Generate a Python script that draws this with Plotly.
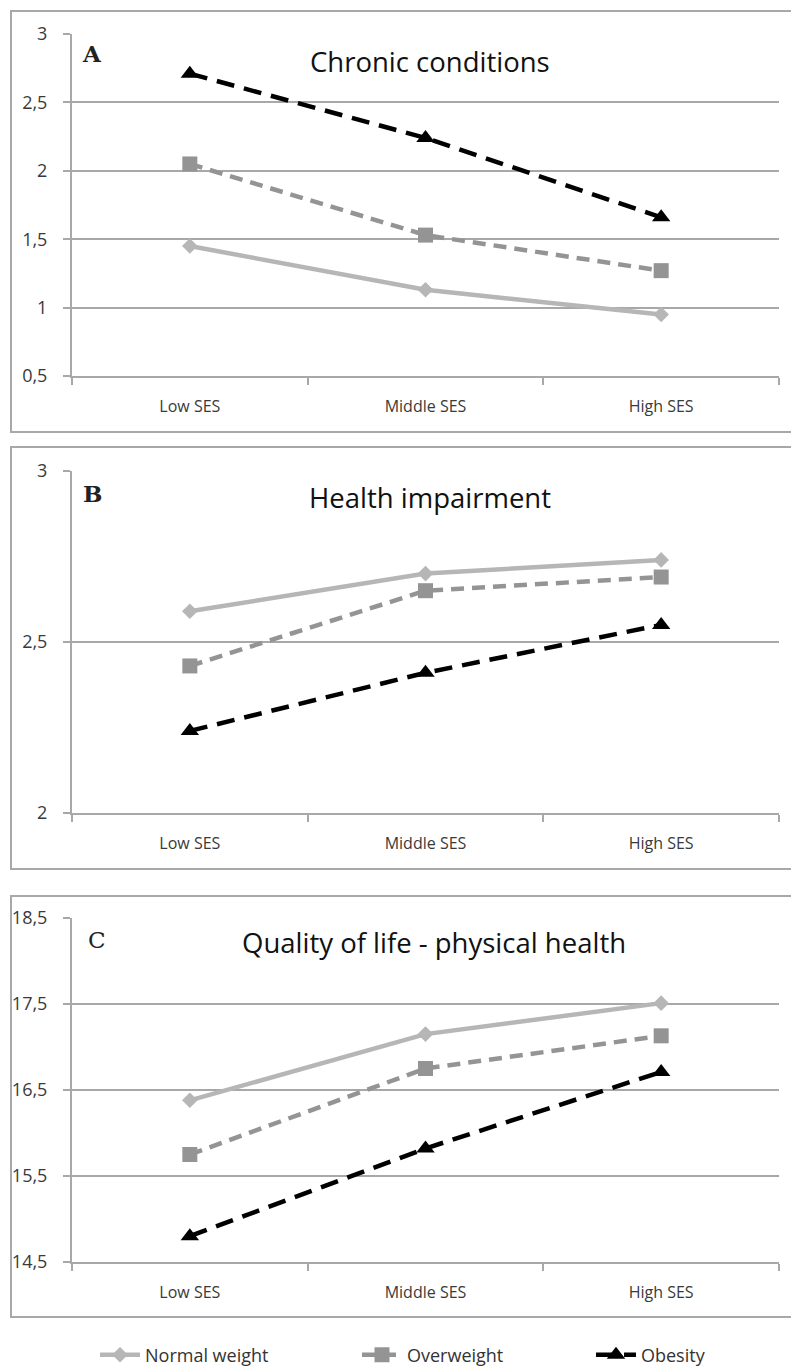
import plotly.graph_objects as go

W, H = 791, 1366

categories = ["Low SES", "Middle SES", "High SES"]
series_names = ["Normal weight", "Overweight", "Obesity"]

# Panel A: Chronic conditions
a_normal = [1.45, 1.13, 0.95]
a_over = [2.05, 1.53, 1.27]
a_obese = [2.71, 2.24, 1.66]

# Panel B: Health impairment
b_normal = [2.59, 2.70, 2.74]
b_over = [2.43, 2.65, 2.69]
b_obese = [2.24, 2.41, 2.55]

# Panel C: Quality of life - physical health
c_normal = [16.38, 17.15, 17.51]
c_over = [15.75, 16.75, 17.13]
c_obese = [14.80, 15.82, 16.71]

a_ticks = [0.5, 1, 1.5, 2, 2.5, 3]
a_ticktext = ["0,5", "1", "1,5", "2", "2,5", "3"]
b_ticks = [2, 2.5, 3]
b_ticktext = ["2", "2,5", "3"]
c_ticks = [14.5, 15.5, 16.5, 17.5, 18.5]
c_ticktext = ["14,5", "15,5", "16,5", "17,5", "18,5"]

panel_letters = ["A", "B", "C"]
panel_titles = ["Chronic conditions", "Health impairment", "Quality of life - physical health"]

# ---- styles ----
FONT = "Open Sans, Liberation Sans, sans-serif"
XTICKFONT = dict(family=FONT, size=16, color="#3a3a3a")
YTICKFONT = dict(family=FONT, size=18, color="#3a3a3a")
GRID = "#a8a8a8"
styles = [
    dict(line=dict(color="#b6b6b6", width=4.5), marker=dict(symbol="diamond", size=12, color="#b6b6b6")),
    dict(line=dict(color="#949494", width=4.5, dash="13px,8px"), marker=dict(symbol="square", size=15, color="#949494")),
    dict(line=dict(color="#000000", width=4.5, dash="18px,10px"), marker=dict(symbol="triangle-up", size=16, color="#000000")),
]

def px_x(p):
    return p / W

def px_y(p):
    return 1 - p / H

# plot areas in pixels (top, bottom)
areas = [(34, 376), (471, 813), (918, 1262)]
borders = [(11, 432), (447, 869), (896, 1317)]
X0, X1 = 72, 779

data_sets = [
    (a_normal, a_over, a_obese, a_ticks, a_ticktext),
    (b_normal, b_over, b_obese, b_ticks, b_ticktext),
    (c_normal, c_over, c_obese, c_ticks, c_ticktext),
]

fig = go.Figure()
layout = dict(
    width=W, height=H, autosize=False,
    margin=dict(l=0, r=0, t=0, b=0, pad=0, autoexpand=False),
    paper_bgcolor="white", plot_bgcolor="white",
    shapes=[], annotations=[],
)

letter_pos = [(92, 53), (92, 493), (97, 940)]
letter_bold = [True, True, False]
title_pos = [(430, 62), (430, 498), (434, 942)]

for i, (nrm, ovr, obs, tv, tt) in enumerate(data_sets):
    xa = "x" if i == 0 else f"x{i+1}"
    ya = "y" if i == 0 else f"y{i+1}"
    for k, vals in enumerate([nrm, ovr, obs]):
        tr = go.Scatter(
            x=categories, y=vals, mode="lines+markers", name=series_names[k],
            xaxis=xa, yaxis=ya, showlegend=(i == 0), **styles[k],
        )
        if i == 0:
            tr.legend = "legend" if k == 0 else f"legend{k+1}"
        fig.add_trace(tr)
    top, bot = areas[i]
    xkey = "xaxis" if i == 0 else f"xaxis{i+1}"
    ykey = "yaxis" if i == 0 else f"yaxis{i+1}"
    layout[xkey] = dict(
        domain=[px_x(X0), px_x(X1)], anchor=ya, type="category",
        range=[-0.5, 2.5], showgrid=False, showline=True, linecolor=GRID, linewidth=2,
        ticks="outside", tickson="boundaries", ticklen=7, tickcolor=GRID, tickwidth=2,
        tickfont=XTICKFONT, ticklabelstandoff=15, zeroline=False, automargin=False,
    )
    layout[ykey] = dict(
        domain=[px_y(bot), px_y(top)], anchor=xa,
        range=[tv[0], tv[-1]], tickvals=tv, ticktext=tt,
        showgrid=True, gridcolor=GRID, gridwidth=2,
        showline=True, linecolor=GRID, linewidth=2,
        ticks="outside", ticklen=7, tickcolor=GRID, tickwidth=2,
        tickfont=YTICKFONT, ticklabelstandoff=12, zeroline=False, automargin=False,
    )
    bt, bb = borders[i]
    layout["shapes"].append(dict(
        type="rect", xref="paper", yref="paper",
        x0=px_x(11), x1=1.02, y0=px_y(bb), y1=px_y(bt),
        line=dict(color="#a8a8a8", width=2), fillcolor="rgba(0,0,0,0)", layer="below",
    ))
    lx, ly = letter_pos[i]
    ltxt = f"<b>{panel_letters[i]}</b>" if letter_bold[i] else panel_letters[i]
    layout["annotations"].append(dict(
        text=ltxt, xref="paper", yref="paper",
        x=px_x(lx), y=px_y(ly), xanchor="center", yanchor="middle", showarrow=False,
        font=dict(family="DejaVu Serif, Liberation Serif, serif", size=23, color="#222222"),
    ))
    tx, ty = title_pos[i]
    layout["annotations"].append(dict(
        text=panel_titles[i], xref="paper", yref="paper",
        x=px_x(tx), y=px_y(ty), xanchor="center", yanchor="middle", showarrow=False,
        font=dict(family=FONT, size=27.5, color="#111111"),
    ))

legend_pos = [95, 357, 591]
for k in range(3):
    key = "legend" if k == 0 else f"legend{k+1}"
    layout[key] = dict(
        x=px_x(legend_pos[k]), y=px_y(1355), xanchor="left", yanchor="middle",
        orientation="h", bgcolor="rgba(0,0,0,0)", itemwidth=40,
        font=dict(family=FONT, size=18, color="#333333"),
    )

fig.update_layout(**layout)
fig.write_html(
    "out.html",
    config={"displayModeBar": False},
    post_script="document.body.style.margin='0';document.body.style.overflow='hidden';",
)
